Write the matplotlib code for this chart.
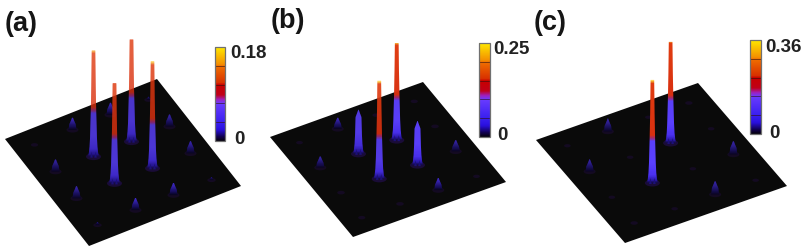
import matplotlib
matplotlib.use("Agg")
import matplotlib.pyplot as plt
import numpy as np
from matplotlib.colors import LinearSegmentedColormap
from matplotlib.patches import Ellipse, Polygon, Rectangle
from matplotlib.transforms import Affine2D

plt.rcParams["font.family"] = ["Liberation Sans", "DejaVu Sans"]

# lattice sites on the plate, same for u and v
sites = [0.125, 0.375, 0.625, 0.875]

# peak values, rows are v, columns are u
values_a = [[0.002, 0.020, 0.020, 0.004],
            [0.020, 0.178, 0.170, 0.020],
            [0.020, 0.168, 0.180, 0.020],
            [0.004, 0.020, 0.020, 0.004]]
values_b = [[0.002, 0.028, 0.003, 0.003],
            [0.028, 0.110, 0.245, 0.004],
            [0.004, 0.250, 0.110, 0.028],
            [0.003, 0.004, 0.030, 0.002]]
values_c = [[0.002, 0.042, 0.002, 0.005],
            [0.040, 0.002, 0.353, 0.002],
            [0.002, 0.360, 0.002, 0.045],
            [0.005, 0.002, 0.045, 0.002]]

labels = ["(a)", "(b)", "(c)"]
vmax_labels = ["0.18", "0.25", "0.36"]

cbar_stops = [(0.0, "#05000f"), (0.04, "#10004a"), (0.12, "#2a10e0"), (0.2, "#3a20f0"),
              (0.4, "#6a3cff"), (0.44, "#a020c0"), (0.49, "#c00018"), (0.6, "#c80000"),
              (0.62, "#d83000"), (0.8, "#f07000"), (0.82, "#f49000"), (1.0, "#ffe800")]
peak_stops = [(0.0, "#0c0630"), (0.03, "#2a18a8"), (0.08, "#4a30f0"), (0.2, "#5a40ff"),
              (0.41, "#5a40f8"), (0.44, "#a02870"), (0.47, "#d83010"), (0.975, "#e03c10"),
              (0.99, "#f09020"), (1.0, "#ffd050")]
cbar_cmap = LinearSegmentedColormap.from_list("bar", cbar_stops)
peak_cmap = LinearSegmentedColormap.from_list("peak", peak_stops)

# half width of a peak (px) against height above the plate (px)
profile_h = [0, 4, 10, 20, 45, 70, 110]
profile_w = [5.5, 4.6, 3.9, 3.4, 2.7, 2.2, 1.7]


def draw_peak(ax, x, y, height, frac_top):
    small = frac_top < 0.2
    for h in np.arange(0, height, 1.0):
        w0 = np.interp(h, profile_h, profile_w)
        w1 = np.interp(h + 1, profile_h, profile_w)
        # lower peaks come to a point
        if frac_top < 0.9:
            w0 = w0 * min(1, (height - h) / 8 + 0.2)
            w1 = w1 * min(1, (height - h - 1) / 8 + 0.2)
        if small:
            w0, w1 = w0 * 0.75, w1 * 0.75
        frac = ((h + 1) / height) * frac_top * (0.9 if frac_top < 0.9 else 1)
        color = np.array(peak_cmap(frac))
        if small:
            color[:3] = color[:3] * (0.45 + 0.4 * h / height)
        ax.add_patch(Polygon([(x - w0, y - h), (x + w0, y - h), (x + w1, y - h - 1.1), (x - w1, y - h - 1.1)],
                             closed=True, fc=color, ec="none", zorder=3))
    if height > 30:
        # dark notches in the foot of the peaks
        for dx in [-2.0, 2.0]:
            ax.add_patch(Polygon([(x + dx - 1.3, y + 1), (x + dx, y - 5), (x + dx + 1.3, y + 1)], closed=True,
                                 fc="#1c1078", ec="none", zorder=3))


def draw_panel(ax, corners, values, vmax, vmax_label, scale, bar, label, label_xy, tick_x):
    left, top, bottom = corners
    to_px = Affine2D.from_values(top[0] - left[0], top[1] - left[1],
                                 bottom[0] - left[0], bottom[1] - left[1],
                                 left[0], left[1])
    ax.add_patch(Rectangle((0, 0), 1, 1, fc="#0a0a0a", ec="none", zorder=1,
                           transform=to_px + ax.transData))

    items = []
    for j, v in enumerate(sites):
        for i, u in enumerate(sites):
            x, y = to_px.transform((u, v))
            items.append((y, x, values[j][i]))
    # back to front
    for y, x, val in sorted(items):
        height = val / vmax * scale
        if height > 30:
            ax.add_patch(Ellipse((x, y), 15, 7, fc="#1a0c38", ec="none", zorder=2))
        else:
            ax.add_patch(Ellipse((x, y), 6 + min(height, 6), 3 + min(height, 6) * 0.4, fc="#140a22", ec="none", zorder=2))
        if height > 2:
            draw_peak(ax, x, y, height, val / vmax)

    x0, x1, y0, y1 = bar
    grad = np.linspace(0, 1, 200).reshape(-1, 1)
    ax.imshow(grad, cmap=cbar_cmap, origin="lower", aspect="auto", extent=[x0, x1, y1, y0], zorder=2)
    for f in [0.2, 0.4, 0.6, 0.8]:
        ax.plot([x0, x1], [y1 + (y0 - y1) * f] * 2, color="#301010", lw=0.6, alpha=0.7, zorder=3)
    ax.add_patch(Rectangle((x0, y0), x1 - x0, y1 - y0, fc="none", ec="#707070", lw=0.9, zorder=4))

    ax.text(label_xy[0], label_xy[1], label, fontsize=19.5, fontweight="bold", color="#151515",
            ha="left", va="center", zorder=5)
    ax.text(tick_x, y0 + 7, vmax_label, fontsize=13.5, fontweight="bold", color="#222222",
            ha="left", va="center", zorder=5)
    ax.text(tick_x + 4.5, y1 - 1, "0", fontsize=13.5, fontweight="bold", color="#222222",
            ha="left", va="center", zorder=5)


fig = plt.figure(figsize=(8.06, 2.5), dpi=100)
ax = fig.add_axes([0, 0, 1, 1])

draw_panel(ax, [(5, 139), (157, 79), (89, 246)], values_a, 0.18, vmax_labels[0], 107,
           (215, 225, 47, 141), labels[0], (5, 24), 230)
draw_panel(ax, [(270, 137), (423, 82), (353, 237)], values_b, 0.25, vmax_labels[1], 98,
           (479, 490, 43, 137), labels[1], (271, 21), 493)
draw_panel(ax, [(536, 140), (698, 83), (625, 243)], values_c, 0.36, vmax_labels[2], 103,
           (750, 761, 40, 134), labels[2], (534, 23), 765)

ax.set_xlim(0, 806)
ax.set_ylim(250, 0)
ax.axis("off")

fig.savefig("out.png", dpi=100)
